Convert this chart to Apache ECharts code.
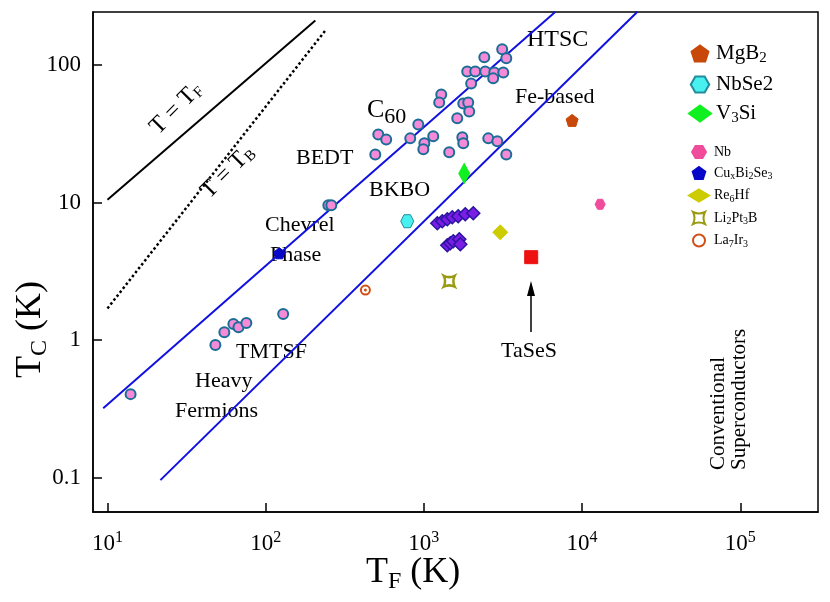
<!DOCTYPE html>
<html><head><meta charset="utf-8">
<script src="https://cdn.jsdelivr.net/npm/echarts@6/dist/echarts.min.js"></script>
<style>html,body{margin:0;background:#fff}#c{width:830px;height:602px}</style>
</head><body><div id="c"></div>
<script>
const pinkTF=[14,48.1,54.8,62.5,67.3,75.5,129,249,260,493,515,578,820,1007,992,1146,922,1288,1250,1446,1774,1907,1935,1625,1750,1774,2553,2912,3319,1879,2112,2443,2786,3176,2742,1990,2410,3126,3319];
const pinkTC=[0.405,0.92,1.14,1.31,1.24,1.33,1.55,9.56,9.56,22.4,31.3,28.8,29.3,27.0,24.4,30.3,37.0,61.1,53.5,23.2,52.6,53.5,46.0,41.0,29.8,27.0,29.3,27.9,22.4,89.9,89.9,89.9,88.3,88.3,80.0,73.5,114,130,112];
const bkboTF=[1216,1307,1406,1512,1648,1826,2052,1406,1469,1535,1675,1700];
const bkboTC=[7.08,7.32,7.56,7.82,7.95,8.22,8.36,4.90,5.06,5.24,5.41,4.98];
const singleNames=['MgB2','NbSe2','V3Si','Nb','CuxBi2Se3','Re6Hf','Li2Pt3B','La7Ir3','TaSeS'];
const singleTF=[8650,785,1799,13000,122,3040,1446,427,4770];
const singleTC=[39.6,7.32,16.3,9.72,4.28,6.08,2.68,2.31,4.01];
const lineTF=[[10,206],[10,238],[9.4,6760],[21.6,22300]];
const lineTC=[[10.5,211],[1.7,178],[0.32,243],[0.096,243]];
const xTicks=[10,100,1000,10000,100000];
const yTicks=[0.1,1,10,100];

const pent='path://M0,-10L9.5,-3.1L5.9,8.1L-5.9,8.1L-9.5,-3.1Z';
const hex='path://M-10,0L-5,-8.66L5,-8.66L10,0L5,8.66L-5,8.66Z';
const star4='path://M-6,-6Q0,-3 6,-6Q3,0 6,6Q0,3 -6,6Q-3,0 -6,-6Z';
const styles={
 MgB2:{symbol:pent,size:12,color:'#c8480a'},
 NbSe2:{symbol:hex,size:13,color:'#48f0f0',border:'#208c9c'},
 V3Si:{symbol:'diamond',size:[11,20],color:'#10f020'},
 Nb:{symbol:hex,size:10,color:'#f04c9c'},
 CuxBi2Se3:{symbol:pent,size:11,color:'#0808c8'},
 Re6Hf:{symbol:'diamond',size:15,color:'#cccc00'},
 Li2Pt3B:{symbol:star4,size:11,color:'#fff',border:'#9a9a10',bw:2.5},
 La7Ir3:{symbol:'circle',size:9,color:'#fff',border:'#d05018',bw:2},
 TaSeS:{symbol:'rect',size:13,color:'#ee1111'}
};
const F='Liberation Serif';
const series=[];
lineTF.forEach((xs,i)=>{
 const st=[{color:'#000',type:'solid',width:2},{color:'#000',type:'dotted',width:2.5},{color:'#1010e0',type:'solid',width:2},{color:'#1010e0',type:'solid',width:2}][i];
 series.push({type:'line',data:xs.map((x,j)=>[x,lineTC[i][j]]),symbol:'none',lineStyle:st,z:1,silent:true});
});
series.push({type:'scatter',data:pinkTF.map((x,i)=>[x,pinkTC[i]]),symbol:'circle',symbolSize:10,itemStyle:{opacity:1,color:'#f48ad8',borderColor:'#1a6e96',borderWidth:2}});
series.push({type:'scatter',data:bkboTF.map((x,i)=>[x,bkboTC[i]]),symbol:'diamond',symbolSize:13,itemStyle:{opacity:1,color:'#7a1ee6',borderColor:'#2a14a0',borderWidth:1.5}});
singleNames.forEach((n,i)=>{
 const s=styles[n];
 series.push({type:'scatter',name:n,data:[[singleTF[i],singleTC[i]]],symbol:s.symbol,symbolSize:s.size,
  itemStyle:{opacity:1,color:s.color,borderColor:s.border||s.color,borderWidth:s.bw||1}});
 if(n==='La7Ir3') series.push({type:'scatter',data:[[singleTF[i],singleTC[i]]],symbol:'circle',symbolSize:3,itemStyle:{opacity:1,color:'#d05018'},z:3});
});
const T=(x,y,txt,size,extra)=>Object.assign({type:'text',left:x,top:y,style:{text:txt,font:(size||22)+'px "'+F+'"',fill:'#000'}},extra||{});
const rich=(x,y,txt,size,r,extra)=>Object.assign({type:'text',x:x,y:y,style:{text:txt,fontFamily:F,fontSize:size,fill:'#000',rich:r}},extra||{});
const lgSub={s:{fontFamily:F,fontSize:15,padding:[10,0,0,0]}};
const lgSubS={s:{fontFamily:F,fontSize:10,padding:[7,0,0,0]}};
const chart=echarts.init(document.getElementById('c'));
chart.setOption({
 animation:false,
 grid:{left:93,right:12,top:12,bottom:90},
 xAxis:{type:'log',min:8.1,max:310000,logBase:10,
  axisLine:{lineStyle:{color:'#000',width:1.5}},axisTick:{inside:true,length:9,lineStyle:{color:'#000',width:1.5}},
  splitLine:{show:false},
  axisLabel:{margin:18,fontFamily:F,fontSize:23,color:'#000',showMinLabel:false,showMaxLabel:false,
   formatter:v=>{const e=Math.round(Math.log10(v));return '10{s|'+e+'}';},rich:{s:{fontFamily:F,fontSize:16,padding:[0,0,12,0]}}}},
 yAxis:{type:'log',min:0.0563,max:243,logBase:10,
  axisLine:{lineStyle:{color:'#000',width:1.5}},axisTick:{inside:true,length:9,lineStyle:{color:'#000',width:1.5}},
  splitLine:{show:false},
  axisLabel:{margin:12,fontFamily:F,fontSize:23,color:'#000',showMinLabel:false,showMaxLabel:false,
   formatter:v=>{for(const t of yTicks){if(Math.abs(v-t)/t<1e-6)return String(t);}return '';}}},
 legend:[
  {data:['MgB2','NbSe2','V3Si'],orient:'vertical',left:683,top:38,itemGap:8,itemWidth:22,itemHeight:16,
   formatter:n=>({MgB2:'MgB{s|2}',NbSe2:'NbSe2',V3Si:'V{s|3}Si'})[n],
   textStyle:{fontFamily:F,fontSize:21,color:'#000',rich:lgSub}},
  {data:['Nb','CuxBi2Se3','Re6Hf','Li2Pt3B','La7Ir3'],orient:'vertical',left:683,top:140,itemGap:7,itemWidth:20,itemHeight:12,
   formatter:n=>({Nb:'Nb',CuxBi2Se3:'Cu{s|x}Bi{s|2}Se{s|3}',Re6Hf:'Re{s|6}Hf',Li2Pt3B:'Li{s|2}Pt{s|3}B',La7Ir3:'La{s|7}Ir{s|3}'})[n],
   textStyle:{fontFamily:F,fontSize:14,color:'#000',rich:lgSubS}}
 ],
 series:series,
 graphic:[
  {type:'rect',shape:{x:93,y:12,width:725,height:500},style:{fill:'none',stroke:'#000',lineWidth:1.5},silent:true},
  rich(366,552,'T{s|F} (K)',36,{s:{fontFamily:F,fontSize:24,padding:[18,0,0,0]}}),
  rich(10,378,'T{s|C} (K)',36,{s:{fontFamily:F,fontSize:24,padding:[18,0,0,0]}},{rotation:Math.PI/2}),
  rich(145,122,'T = T{s|F}',24,{s:{fontFamily:F,fontSize:15,padding:[10,0,0,0]}},{rotation:Math.PI/4}),
  rich(196,186,'T = T{s|B}',24,{s:{fontFamily:F,fontSize:15,padding:[10,0,0,0]}},{rotation:Math.PI/4}),
  T(527,28,'HTSC',24),T(515,86,'Fe-based',22),
  rich(367,92,'C{s|60}',26,{s:{fontFamily:F,fontSize:22,padding:[14,0,0,0]}}),
  T(296,147,'BEDT',22),T(369,179,'BKBO',22),T(265,214,'Chevrel',22),T(270,244,'Phase',22),
  T(236,341,'TMTSF',22),T(195,370,'Heavy',22),T(175,400,'Fermions',22),T(501,340,'TaSeS',22),
  {type:'line',shape:{x1:531,y1:332,x2:531,y2:292},style:{stroke:'#000',lineWidth:1.5}},
  {type:'polygon',shape:{points:[[531,281],[527,296],[535,296]]},style:{fill:'#000'}},
  rich(708,470,'Conventional\nSuperconductors',21,{},{rotation:Math.PI/2})
 ]
});
</script></body></html>
